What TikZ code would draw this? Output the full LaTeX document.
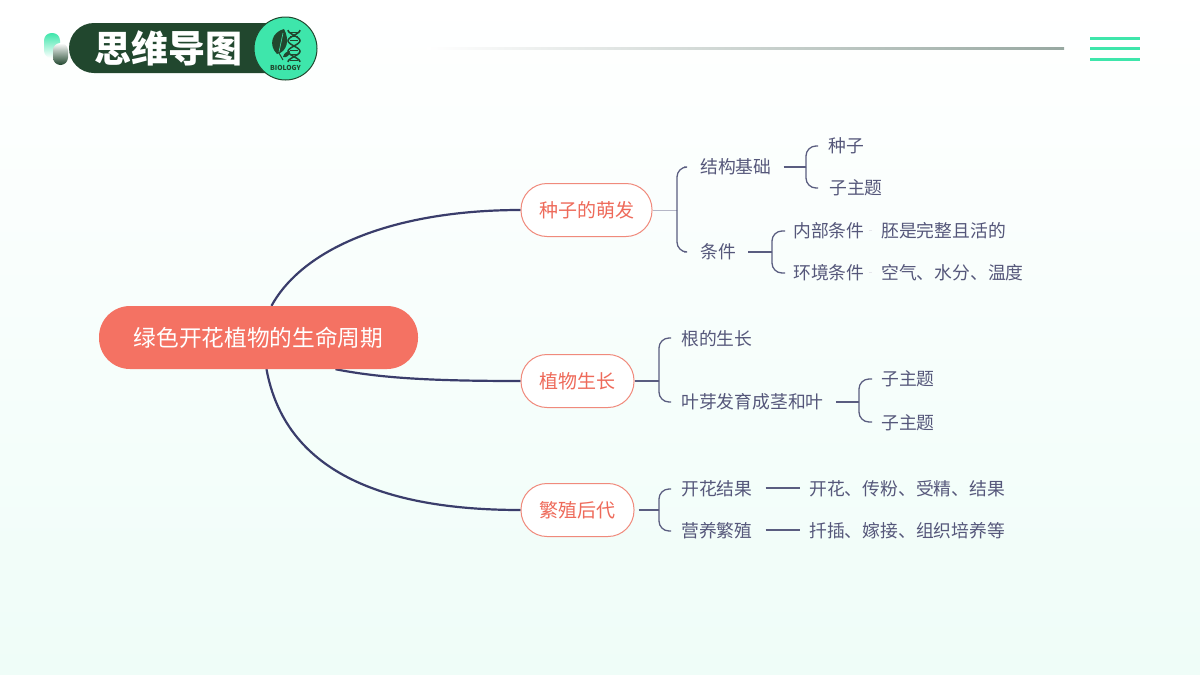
\documentclass[tikz,border=0pt]{standalone}
\usepackage{fontspec}
\setmainfont{Noto Sans CJK SC}
\usetikzlibrary{calc, positioning, backgrounds}
\definecolor{bloomred}{HTML}{F47263}
\definecolor{bloomline}{HTML}{F08A7C}
\definecolor{bloomtext}{HTML}{EE6A5A}
\definecolor{limbnavy}{HTML}{3A3D6B}
\definecolor{twigslate}{HTML}{5A5D80}
\definecolor{leafink}{HTML}{55577A}
\definecolor{forest}{HTML}{21472E}
\definecolor{mintglow}{HTML}{3EE6AB}
\definecolor{paperend}{HTML}{EFFDF8}
\definecolor{rulegrey}{HTML}{97A8A1}
\tikzset{
    hub/.style={fill=bloomred, text=white, rounded corners=31pt, minimum width=319pt, minimum height=63pt, font=\fontsize{22.7}{24}\selectfont},
    limb/.style={draw=bloomline, fill=white, line width=1pt, text=bloomtext, rounded corners=26pt, minimum height=53pt, inner xsep=0pt, font=\fontsize{19}{22}\selectfont},
    leaf/.style={anchor=west, inner sep=0pt, text height=17.5pt, text depth=2.3pt, text=leafink, font=\fontsize{17.8}{20}\selectfont},
    bough/.style={draw=limbnavy, line width=2.2pt},
    stem/.style={draw=twigslate, line width=1.7pt},
    fork/.style={draw=twigslate, line width=1.3pt, rounded corners=10pt},
}
\begin{document}
\begin{tikzpicture}[x=1pt, y=-1pt]
    \useasboundingbox (0,0) rectangle (1200,675);
    \begin{scope}[on background layer]
        \shade[top color=white, bottom color=paperend] (0,0) rectangle (1200,675);
    \end{scope}

    % header
    \shade[left color=white, middle color=mintglow!35, right color=rulegrey] (427,47.7) rectangle (1064,49.3);
    \foreach \y in {38,48,59}
        \draw[mintglow, line width=3pt] (1090,\y) -- (1140,\y);
    \shade[top color=mintglow, bottom color=white, rounded corners=7.5pt] (44,33) rectangle (60,58);
    \shade[top color=white, bottom color=forest, rounded corners=7.5pt] (53,43) rectangle (68,65);
    \fill[forest, rounded corners=25pt] (69,23) rectangle (300,73);
    \node[text=white, font=\fontsize{37}{38}\selectfont\bfseries] (title) at (168,48) {思维导图};
    \node[draw=forest, fill=mintglow, circle, line width=1pt, minimum size=63pt, inner sep=0pt] (badge) at (285.5,48.5) {};
    \fill[forest] (284,29) .. controls (272,32) and (268,45) .. (277,54) .. controls (287,52) and (290,40) .. (284,29);
    \draw[mintglow, line width=0.6pt] (283,33) -- (279,52);
    \draw[forest, line width=1pt] (279,53) -- (283,60);
    \fill[forest] (283,57) .. controls (284,53) and (287,51) .. (290,51) .. controls (290,55) and (287,58) .. (283,57);
    \draw[forest, line width=1.5pt] plot[domain=0:540, samples=40, smooth] ({294+6*cos(\x)}, {30+\x/540*32});
    \draw[forest, line width=1.5pt] plot[domain=0:540, samples=40, smooth] ({294-6*cos(\x)}, {30+\x/540*32});
    \foreach \y in {32,36,40,50,54,60}
        \draw[forest, line width=1pt] (290,\y) -- (298,\y);
    \node[text=forest, font=\fontsize{6.8}{8}\selectfont\bfseries] (biology) at (285.5,68) {BIOLOGY};

    % main nodes
    \node[hub] (cycle) at (258.5,337.5) {绿色开花植物的生命周期};
    \node[limb, minimum width=131pt] (seed) at (586.5,210) {种子的萌发};
    \node[limb, minimum width=113pt] (grow) at (577.5,381) {植物生长};
    \node[limb, minimum width=113pt] (breed) at (577.5,510) {繁殖后代};

    % leaves
    \node[leaf] (base) at (700,166) {结构基础};
    \node[leaf] (germ) at (828,145) {种子};
    \node[leaf] (sub1) at (829,187) {子主题};
    \node[leaf] (need) at (700,251) {条件};
    \node[leaf] (inner) at (793,230) {内部条件};
    \node[leaf] (embryo) at (881,230) {胚是完整且活的};
    \node[leaf] (outer) at (793,272) {环境条件};
    \node[leaf] (air) at (881,272) {空气、水分、温度};
    \node[leaf] (root) at (681,338) {根的生长};
    \node[leaf] (bud) at (681,401) {叶芽发育成茎和叶};
    \node[leaf] (sub2) at (881,378) {子主题};
    \node[leaf] (sub3) at (881,422) {子主题};
    \node[leaf] (flower) at (681,488) {开花结果};
    \node[leaf] (pollen) at (809,488) {开花、传粉、受精、结果};
    \node[leaf] (clone) at (681,530) {营养繁殖};
    \node[leaf] (graft) at (809,530) {扦插、嫁接、组织培养等};

    % curved limbs
    \begin{scope}[on background layer]
        \draw[bough] ([xshift=13pt]cycle.north) .. controls (305,245) and (400,210) .. (seed.west);
        \draw[bough] ([xshift=77pt]cycle.south) .. controls (380,378) and (430,381) .. (grow.west);
        \draw[bough] ([xshift=8pt]cycle.south) .. controls (285,470) and (380,510) .. (breed.west);
    \end{scope}

    % forks
    \coordinate (jseed) at (677,210);
    \coordinate (jbase) at (806,167);
    \coordinate (jneed) at (772,252);
    \coordinate (jgrow) at (659,381);
    \coordinate (jbud) at (859,402);
    \coordinate (jbreed) at (659,510);

    \draw[draw=twigslate!45, line width=1pt] (seed) -- (jseed);
    \draw[fork] (jseed) |- ([xshift=-16pt,yshift=-1pt]base.west);
    \draw[fork] (jseed) |- ([xshift=-16pt,yshift=-1pt]need.west);

    \draw[stem, shorten <=12pt] (base.east |- jbase) -- (jbase);
    \draw[fork] (jbase) |- ([xshift=-10pt,yshift=-1pt]germ.west);
    \draw[fork] (jbase) |- ([xshift=-11pt,yshift=-1pt]sub1.west);

    \draw[stem, shorten <=12pt] (need.east |- jneed) -- (jneed);
    \draw[fork] (jneed) |- ([xshift=-8pt,yshift=-1pt]inner.west);
    \draw[fork] (jneed) |- ([xshift=-8pt,yshift=-1pt]outer.west);
    \draw[draw=twigslate!15, line width=1pt, shorten <=4pt, shorten >=9pt] (inner) -- (embryo);
    \draw[draw=twigslate!15, line width=1pt, shorten <=4pt, shorten >=9pt] (outer) -- (air);

    \draw[stem] (grow) -- (jgrow);
    \draw[fork] (jgrow) |- ([xshift=-10pt]root.west);
    \draw[fork] (jgrow) |- ([xshift=-10pt,yshift=-1pt]bud.west);

    \draw[stem, shorten <=12pt] (bud.east |- jbud) -- (jbud);
    \draw[fork] (jbud) |- ([xshift=-9pt,yshift=-1pt]sub2.west);
    \draw[fork] (jbud) |- ([xshift=-9pt]sub3.west);

    \draw[stem, shorten <=4pt] (breed) -- (jbreed);
    \draw[fork] (jbreed) |- ([xshift=-10pt,yshift=-1pt]flower.west);
    \draw[fork] (jbreed) |- ([xshift=-10pt,yshift=-1pt]clone.west);

    \draw[stem, line width=1.3pt, shorten <=13pt, shorten >=9pt] (flower) -- (pollen);
    \draw[stem, line width=1.3pt, shorten <=13pt, shorten >=9pt] (clone) -- (graft);
\end{tikzpicture}
\end{document}
